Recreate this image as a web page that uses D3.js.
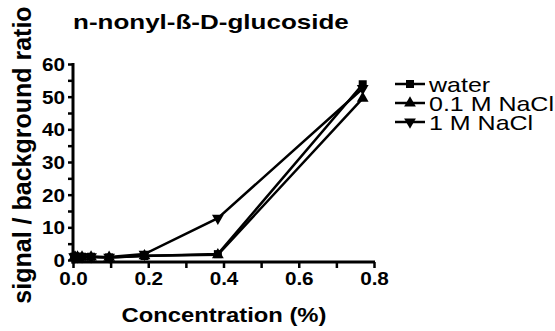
<!DOCTYPE html>
<html>
<head>
<meta charset="utf-8">
<script src="https://cdn.jsdelivr.net/npm/d3@7/dist/d3.min.js"></script>
<style>
  html, body { margin: 0; padding: 0; background: #fff; }
  svg { display: block; font-family: Arial, "Liberation Sans", sans-serif; }
</style>
</head>
<body>
<svg id="chart" width="555" height="331"></svg>
<script>
// Concentration series (%) and signal/background ratios
const concentrations = [0.003, 0.006, 0.012, 0.024, 0.048, 0.096, 0.19, 0.385, 0.77];
const water      = [1.0, 1.0, 1.0, 1.0, 1.0, 0.8, 1.2, 1.8, 53.8];
const nacl01     = [0.8, 0.8, 0.9, 0.9, 0.9, 0.8, 1.3, 1.6, 49.5];
const nacl1      = [1.0, 1.0, 1.0, 1.0, 1.0, 0.9, 1.8, 12.8, 52.5];
const seriesNames = ["water", "0.1 M NaCl", "1 M NaCl"];
const xTicks = [0.0, 0.2, 0.4, 0.6, 0.8];
const yTicks = [0, 10, 20, 30, 40, 50, 60];

const series = [
  { name: seriesNames[0], values: water,  symbol: "square" },
  { name: seriesNames[1], values: nacl01, symbol: "up" },
  { name: seriesNames[2], values: nacl1,  symbol: "down" }
];

const FONT = "Arial, 'Liberation Sans', sans-serif";
const svg = d3.select("#chart");
const x = d3.scaleLinear().domain([0, 0.8]).range([73, 374]);
const y = d3.scaleLinear().domain([0, 60]).range([260, 64]);
const axisY = 262;

function symbolPath(kind) {
  if (kind === "square") return d3.symbol().type(d3.symbolSquare).size(64)();
  return d3.symbol().type(d3.symbolTriangle).size(60)();
}

// Text drawn with a slightly widened face
function wideText(px, py, sx, size, weight, anchor, str) {
  return svg.append("text")
    .attr("transform", `translate(${px},${py}) scale(${sx},1)`)
    .attr("text-anchor", anchor)
    .attr("font-size", size).attr("font-weight", weight)
    .text(str);
}

// Title
wideText(73, 29, 1.3, 20, "bold", "start", "n-nonyl-ß-D-glucoside");

// X axis
const tickSx = 1.15;
const xAxis = d3.axisBottom(x)
  .tickValues(d3.range(0, 0.81, 0.1))
  .tickSize(6)
  .tickFormat((d, i) => (i % 2 === 0 ? d3.format(".1f")(d) : ""));
const gx = svg.append("g").attr("transform", `translate(0,${axisY})`).call(xAxis);
gx.select(".domain").attr("stroke-width", 3).attr("d", `M${x(0) - 1.5},0H${x(0.8) + 1}`);
gx.selectAll(".tick line").attr("stroke-width", 2.5);
gx.selectAll(".tick text").attr("font-size", 18).attr("font-weight", "bold")
  .attr("fill", "#000").attr("y", 10).attr("dy", "0.72em")
  .attr("transform", `scale(${tickSx},1)`).attr("font-family", FONT);

// Y axis
const yAxis = d3.axisLeft(y)
  .tickValues(d3.range(0, 61, 5))
  .tickSize(5)
  .tickFormat(d => (d % 10 === 0 ? d : ""));
const gy = svg.append("g").attr("transform", `translate(${x(0)},0)`).call(yAxis);
gy.select(".domain").attr("stroke-width", 3).attr("d", `M0,${y(60) - 1}V${axisY + 1.5}`);
gy.selectAll(".tick line").attr("stroke-width", 2.5);
gy.selectAll(".tick text").attr("font-size", 18).attr("font-weight", "bold")
  .attr("fill", "#000").attr("x", -8 / tickSx).attr("dy", "0.36em")
  .attr("transform", `scale(${tickSx},1)`).attr("font-family", FONT);

// Axis titles
wideText(224, 322, 1.19, 20, "bold", "middle", "Concentration (%)");

svg.append("text")
  .attr("transform", "translate(31,155) rotate(-90)")
  .attr("text-anchor", "middle")
  .attr("font-size", 25).attr("font-weight", "bold")
  .text("signal / background ratio");

// Lines and markers
const line = d3.line().x((d, i) => x(concentrations[i])).y(d => y(d));
series.forEach(s => {
  svg.append("path")
    .datum(s.values)
    .attr("fill", "none").attr("stroke", "#000").attr("stroke-width", 2.5)
    .attr("d", line);
});
series.forEach(s => {
  svg.append("g").selectAll("path")
    .data(s.values)
    .join("path")
    .attr("d", symbolPath(s.symbol))
    .attr("transform", (d, i) => `translate(${x(concentrations[i])},${y(d)})${s.symbol === "down" ? " rotate(180)" : ""}`)
    .attr("fill", "#000");
});

// Legend
const legend = svg.append("g").attr("transform", "translate(395,84)");
series.forEach((s, i) => {
  const g = legend.append("g").attr("transform", `translate(0,${i * 19})`);
  g.append("line").attr("x1", 0).attr("x2", 30).attr("y1", 0).attr("y2", 0)
    .attr("stroke", "#000").attr("stroke-width", 2.5);
  g.append("path").attr("d", symbolPath(s.symbol))
    .attr("transform", `translate(15,0)${s.symbol === "down" ? " rotate(180)" : ""}`)
    .attr("fill", "#000");
  g.append("text")
    .attr("transform", "translate(34,0) scale(1.19,1)")
    .attr("dy", "0.36em")
    .attr("font-size", 21).text(s.name);
});
</script>
</body>
</html>
